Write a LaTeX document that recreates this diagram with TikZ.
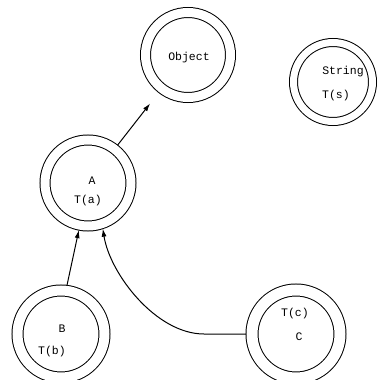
\documentclass[tikz,border=0pt]{standalone}
\usepackage{fontspec}
\setmonofont{Liberation Mono}
\usetikzlibrary{arrows.meta}
\begin{document}
\begin{tikzpicture}[x=1pt,y=-1pt,
  dcirc/.style n args={2}{circle, draw, line width=1pt, double, double distance=#2,
     minimum size=#1, inner sep=0pt, outer sep=0.5*#2+0.5pt},
  lbl/.style={font=\ttfamily\fontsize{11.5}{12}\selectfont, inner sep=0pt},
  conn/.style={line width=1pt, -{Latex[length=8pt,width=5pt]}}]
\useasboundingbox (0,0) rectangle (381,380);
\node[dcirc={85pt}{9pt}] (Obj) at (188,55) {};
\node[dcirc={79pt}{7pt}] (Str) at (333,82) {};
\node[dcirc={86pt}{9pt}] (A) at (88,183) {};
\node[dcirc={87pt}{10pt}] (B) at (61,334) {};
\node[dcirc={88pt}{11pt}] (C) at (296,334) {};
\node[lbl] (tObj) at (189,58) {Object};
\node[lbl] (tStr1) at (343,72) {String};
\node[lbl] (tStr2) at (336,96) {T(s)};
\node[lbl] (tA1) at (92,181) {A};
\node[lbl] (tA2) at (88,201) {T(a)};
\node[lbl] (tB1) at (62,329) {B};
\node[lbl] (tB2) at (52,352) {T(b)};
\node[lbl] (tC1) at (295,314) {T(c)};
\node[lbl] (tC2) at (299,337) {C};
\draw[conn, shorten >=14pt] (A.52) -- (Obj.232);
\draw[conn] (B.83) -- (A.259);
\draw[conn] (C.west) -- ++(-42,0) .. controls +(-48,0) and +(7,45) .. (A.-72);
\end{tikzpicture}
\end{document}
